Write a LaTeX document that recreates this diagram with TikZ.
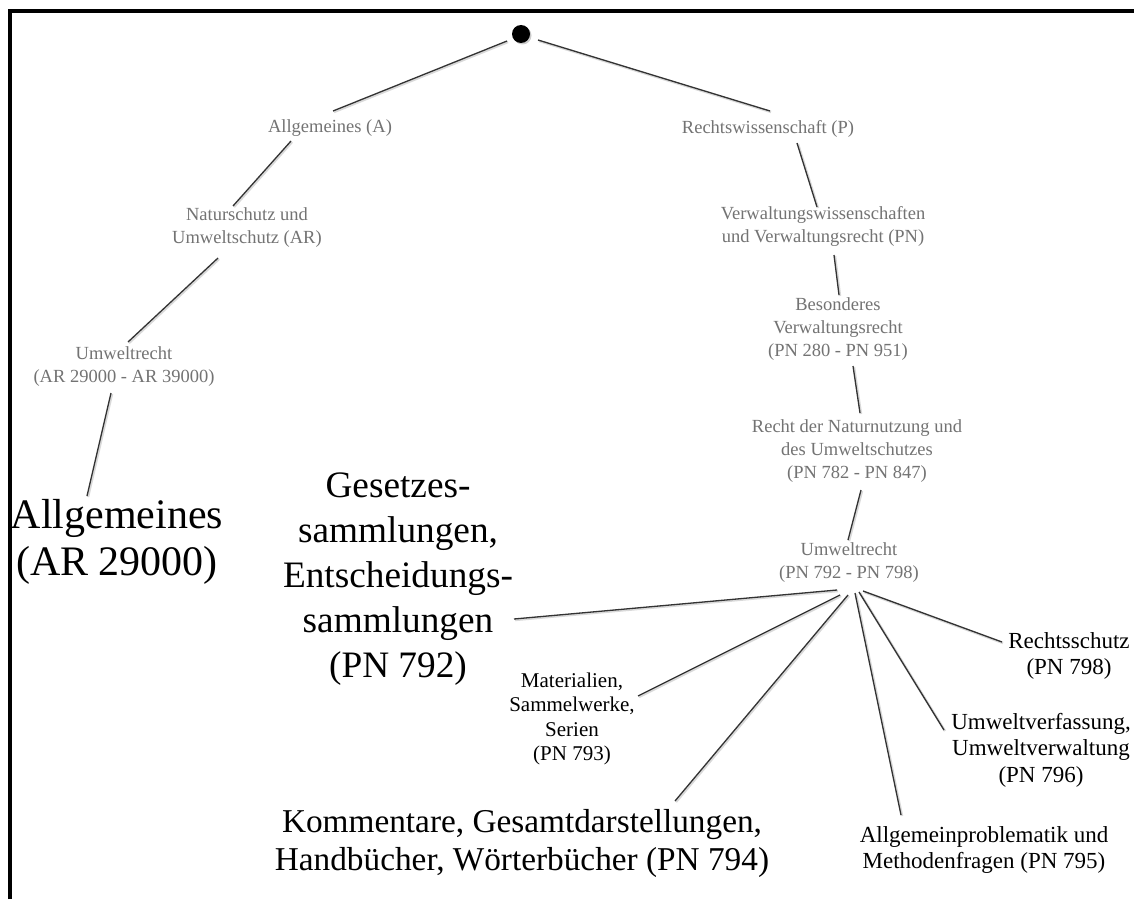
\documentclass[tikz,border=0pt]{standalone}
\usepackage{fontspec}
\setmainfont{Liberation Serif}
\tikzset{
  link/.style={draw=black!80, line width=1.3pt,
    preaction={draw=black!15, line width=2.4pt, transform canvas={shift={(1pt,-1pt)}}}},
  upper/.style={text=black!55, font=\fontsize{18.5}{23}\selectfont, align=center},
  leafs/.style={text=black, font=\fontsize{23}{26}\selectfont, align=center},
}
\begin{document}
\begin{tikzpicture}[x=1pt,y=-1pt]
\useasboundingbox[fill=white] (0,0) rectangle (1134,899);
% frame
\draw[line width=4pt] (9.5,899) -- (9.5,11) -- (1134,11);

% root
\node[circle, fill=black, minimum size=18pt, inner sep=0pt,
  preaction={fill=black!20, transform canvas={shift={(1.5pt,-1.5pt)}}}] (root) at (521,34) {};

% left branch
\node[upper] (allgA) at (330,128) {Allgemeines (A)};
\node[upper] (natur) at (247,228) {Naturschutz und\\Umweltschutz (AR)};
\node[upper] (umwAR) at (124,367) {Umweltrecht\\(AR 29000 - AR 39000)};
\node[text=black, font=\fontsize{42}{47}\selectfont, align=center] (allgAR) at (117,542) {Allgemeines\\(AR 29000)};

% right branch
\node[upper] (rechtsP) at (768,129) {Rechtswissenschaft (P)};
\node[upper] (verwPN) at (823,226) {Verwaltungswissenschaften\\und Verwaltungsrecht (PN)};
\node[upper] (besond) at (838,329) {Besonderes\\Verwaltungsrecht\\(PN 280 - PN 951)};
\node[upper] (naturN) at (857,451) {Recht der Naturnutzung und\\des Umweltschutzes\\(PN 782 - PN 847)};
\node[upper] (umwPN) at (849,563) {Umweltrecht\\(PN 792 - PN 798)};

% leaves
\node[text=black, font=\fontsize{37.3}{45}\selectfont, align=center] (gesetz) at (398,579)
  {Gesetzes-\\sammlungen,\\Entscheidungs-\\sammlungen\\(PN 792)};
\node[text=black, font=\fontsize{21}{24.5}\selectfont, align=center] (mater) at (572,719)
  {Materialien,\\Sammelwerke,\\Serien\\(PN 793)};
\node[text=black, font=\fontsize{33.3}{38}\selectfont, align=center] (komm) at (522,843)
  {Kommentare, Gesamtdarstellungen,\\Handbücher, Wörterbücher (PN 794)};
\node[leafs] (allgP) at (984,850) {Allgemeinproblematik und\\Methodenfragen (PN 795)};
\node[leafs, font=\fontsize{23}{26.5}\selectfont] (umwV) at (1041,750) {Umweltverfassung,\\Umweltverwaltung\\(PN 796)};
\node[leafs] (rechtsS) at (1069,656) {Rechtsschutz\\(PN 798)};

% connectors
\draw[link] ([shift={(-14,7)}]root.center) -- ([shift={(3,-17)}]allgA.center);
\draw[link] ([shift={(17,6)}]root.center) -- ([shift={(2,-18)}]rechtsP.center);
\draw[link] ([shift={(-39,13)}]allgA.center) -- ([shift={(-14,-22)}]natur.center);
\draw[link] ([shift={(-29,30)}]natur.center) -- ([shift={(4,-25)}]umwAR.center);
\draw[link] ([shift={(-13,26)}]umwAR.center) -- ([shift={(-30,-46)}]allgAR.center);
\draw[link] ([shift={(29,14)}]rechtsP.center) -- ([shift={(-6,-19)}]verwPN.center);
\draw[link] ([shift={(11,29)}]verwPN.center) -- ([shift={(1,-34)}]besond.center);
\draw[link] ([shift={(15,37)}]besond.center) -- ([shift={(3,-38)}]naturN.center);
\draw[link] ([shift={(4,39)}]naturN.center) -- ([shift={(-1,-23)}]umwPN.center);
\draw[link] ([shift={(-12,27)}]umwPN.center) -- ([shift={(116,40)}]gesetz.center);
\draw[link] ([shift={(-9,32)}]umwPN.center) -- ([shift={(66,-23)}]mater.center);
\draw[link] ([shift={(-1,32)}]umwPN.center) -- ([shift={(153,-42)}]komm.center);
\draw[link] ([shift={(6,30)}]umwPN.center) -- ([shift={(-83,-35)}]allgP.center);
\draw[link] ([shift={(10,29)}]umwPN.center) -- ([shift={(-97,-20)}]umwV.center);
\draw[link] ([shift={(14,28)}]umwPN.center) -- ([shift={(-67,-14)}]rechtsS.center);
\end{tikzpicture}
\end{document}
